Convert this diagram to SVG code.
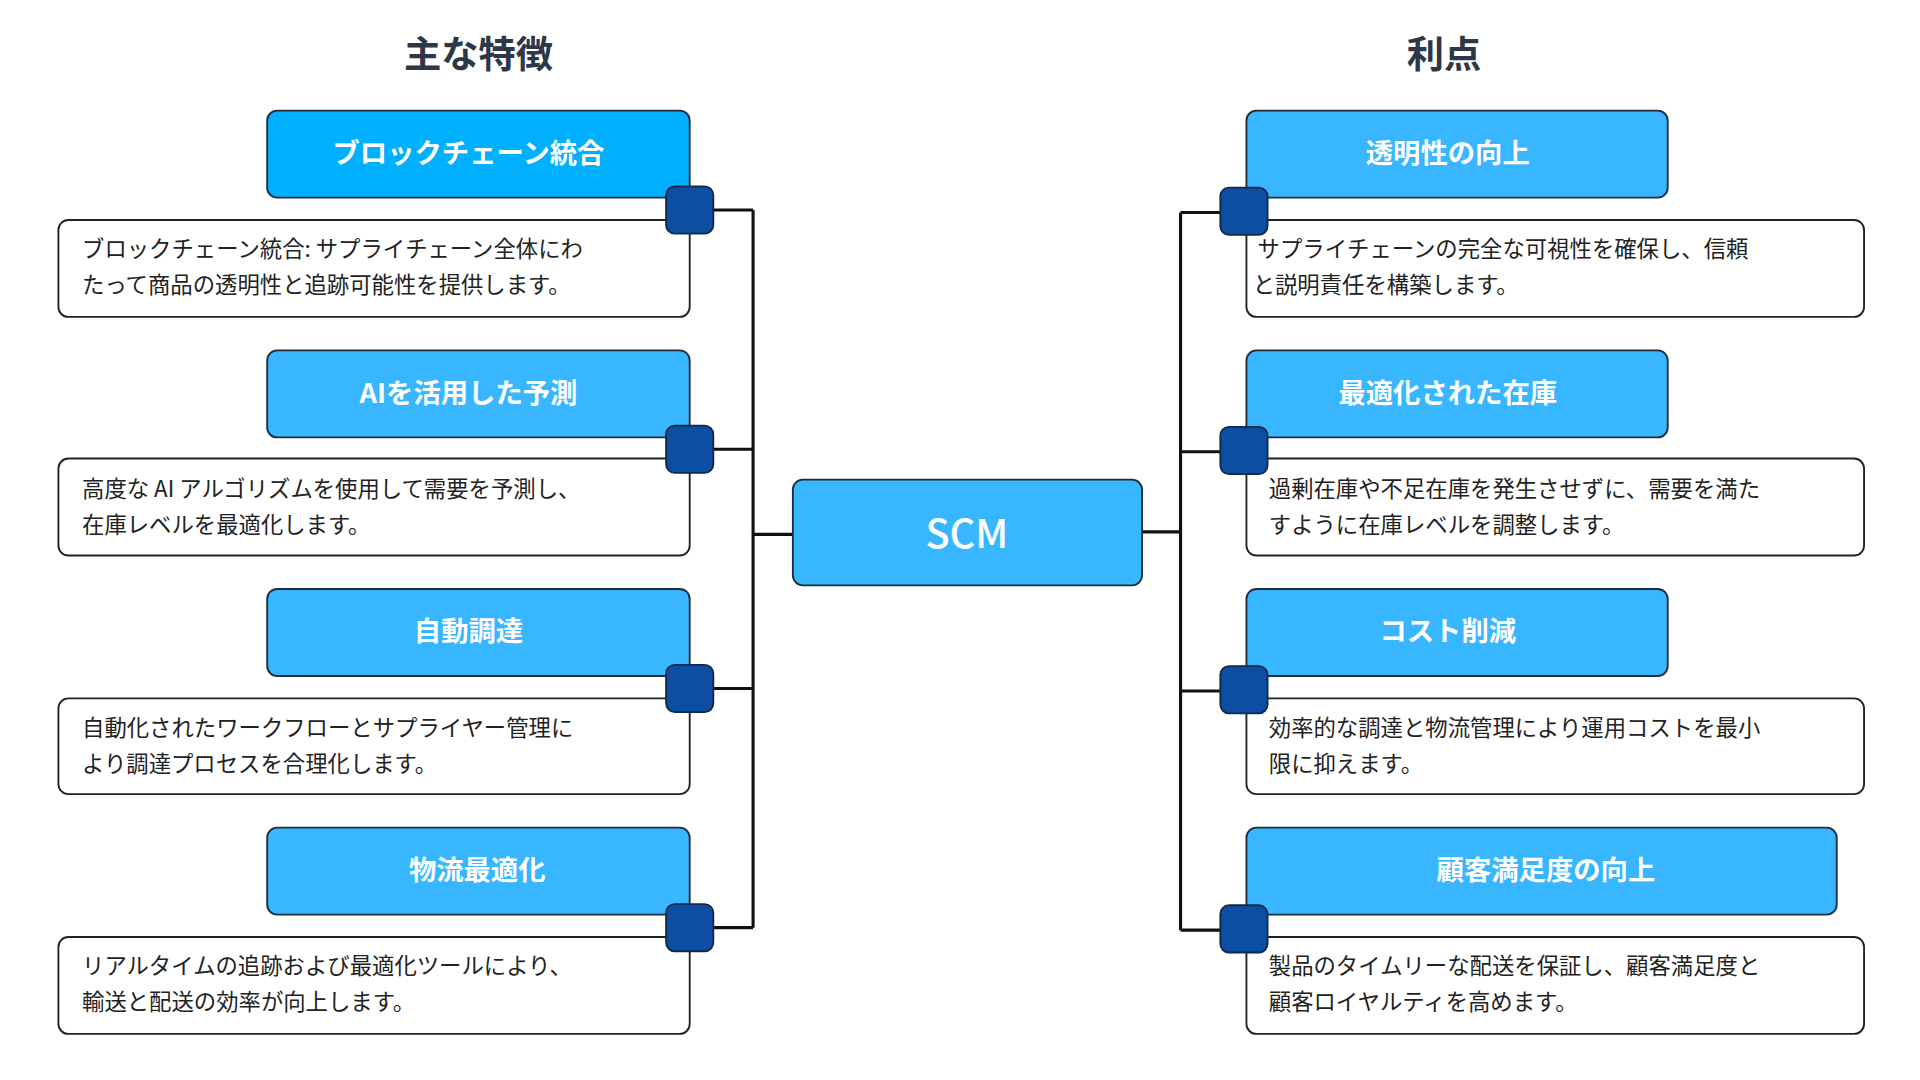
<svg xmlns="http://www.w3.org/2000/svg" width="1920" height="1080" viewBox="0 0 1920 1080">
<style>
.t{font-family:"Noto Sans CJK JP",sans-serif;font-weight:700;font-size:30px;fill:#2d3748;text-anchor:middle}
.h{stroke:#1f2d3d;stroke-width:1.5;fill:#38b6ff}
.ht{font-family:"Noto Sans CJK JP",sans-serif;font-weight:700;font-size:22px;fill:#fff;text-anchor:middle}
.d{fill:#fff;stroke:#222;stroke-width:1.5}
.dt{font-family:"Noto Sans CJK JP",sans-serif;font-size:18px;fill:#222}
.sq{fill:#0b4ea2;stroke:#13294b;stroke-width:1.5}
.ln{stroke:#111;stroke-width:2.5;fill:none}
</style>
<rect width="1920" height="1080" fill="#fff"/>
<g transform="scale(1.2427)">
<text class="t" x="385" y="55">主な特徴</text>
<text class="t" x="1162" y="55">利点</text>
<g id="connectors">
<path class="ln" d="M574 169H606M574 361.5H606M574 554H606M574 746.5H606M606 169V746.5M606 430H638"/>
<path class="ln" d="M982 171H950M982 363.5H950M982 556H950M982 748.5H950M950 171V748.5M950 428H919"/>
</g>
<g id="scm"><rect class="h" x="638" y="386" width="281" height="85" rx="8"/><text class="ht" style="font-size:32px;font-weight:500" x="778" y="441">SCM</text></g>
<g id="l1"><rect class="h" style="fill:#00b0ff" x="215" y="89" width="340" height="70" rx="8"/><text class="ht" x="377" y="131">ブロックチェーン統合</text>
<rect class="d" x="47" y="177" width="508" height="78" rx="8"/><text class="dt" x="66" y="207">ブロックチェーン統合: サプライチェーン全体にわ</text><text class="dt" x="66" y="236">たって商品の透明性と追跡可能性を提供します。</text>
<rect class="sq" x="536" y="150" width="38" height="38" rx="7"/></g>
<g id="l2"><rect class="h" x="215" y="282" width="340" height="70" rx="8"/><text class="ht" x="377" y="324">AIを活用した予測</text>
<rect class="d" x="47" y="369" width="508" height="78" rx="8"/><text class="dt" x="66" y="400">高度な AI アルゴリズムを使用して需要を予測し、</text><text class="dt" x="66" y="429">在庫レベルを最適化します。</text>
<rect class="sq" x="536" y="342.5" width="38" height="38" rx="7"/></g>
<g id="l3"><rect class="h" x="215" y="474" width="340" height="70" rx="8"/><text class="ht" x="377" y="516">自動調達</text>
<rect class="d" x="47" y="562" width="508" height="77" rx="8"/><text class="dt" x="66" y="592">自動化されたワークフローとサプライヤー管理に</text><text class="dt" x="66" y="621">より調達プロセスを合理化します。</text>
<rect class="sq" x="536" y="535" width="38" height="38" rx="7"/></g>
<g id="l4"><rect class="h" x="215" y="666" width="340" height="70" rx="8"/><text class="ht" x="384" y="708">物流最適化</text>
<rect class="d" x="47" y="754" width="508" height="78" rx="8"/><text class="dt" x="66" y="784">リアルタイムの追跡および最適化ツールにより、</text><text class="dt" x="66" y="813">輸送と配送の効率が向上します。</text>
<rect class="sq" x="536" y="727.5" width="38" height="38" rx="7"/></g>
<g id="r1"><rect class="h" x="1003" y="89" width="339" height="70" rx="8"/><text class="ht" x="1165" y="131">透明性の向上</text>
<rect class="d" x="1003" y="177" width="497" height="78" rx="8"/><text class="dt" x="1012" y="207">サプライチェーンの完全な可視性を確保し、信頼</text><text class="dt" x="1008" y="236">と説明責任を構築します。</text>
<rect class="sq" x="982" y="151" width="38" height="38" rx="7"/></g>
<g id="r2"><rect class="h" x="1003" y="282" width="339" height="70" rx="8"/><text class="ht" x="1165" y="324">最適化された在庫</text>
<rect class="d" x="1003" y="369" width="497" height="78" rx="8"/><text class="dt" x="1021" y="400">過剰在庫や不足在庫を発生させずに、需要を満た</text><text class="dt" x="1021" y="429">すように在庫レベルを調整します。</text>
<rect class="sq" x="982" y="343.5" width="38" height="38" rx="7"/></g>
<g id="r3"><rect class="h" x="1003" y="474" width="339" height="70" rx="8"/><text class="ht" x="1165" y="516">コスト削減</text>
<rect class="d" x="1003" y="562" width="497" height="77" rx="8"/><text class="dt" x="1021" y="592">効率的な調達と物流管理により運用コストを最小</text><text class="dt" x="1021" y="621">限に抑えます。</text>
<rect class="sq" x="982" y="536" width="38" height="38" rx="7"/></g>
<g id="r4"><rect class="h" x="1003" y="666" width="475" height="70" rx="8"/><text class="ht" x="1244" y="708">顧客満足度の向上</text>
<rect class="d" x="1003" y="754" width="497" height="78" rx="8"/><text class="dt" x="1021" y="784">製品のタイムリーな配送を保証し、顧客満足度と</text><text class="dt" x="1021" y="813">顧客ロイヤルティを高めます。</text>
<rect class="sq" x="982" y="728.5" width="38" height="38" rx="7"/></g>
</g>
</svg>
